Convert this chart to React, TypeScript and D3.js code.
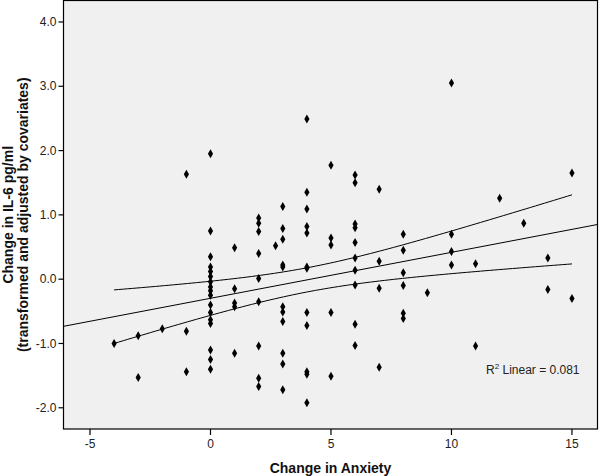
import React from "react";
import * as d3 from "d3";

// Change in Anxiety (x) and Change in IL-6 (y)
const anxietyChange: number[] = [
  -4,
  -3, -3,
  -2,
  -1, -1, -1,
  0, 0, 0, 0, 0, 0, 0, 0, 0, 0, 0, 0, 0, 0, 0, 0, 0,
  1, 1, 1, 1, 1,
  2, 2, 2, 2, 2, 2, 2, 2, 2,
  2.7,
  3, 3, 3, 3, 3, 3, 3, 3, 3, 3, 3,
  4, 4, 4, 4, 4, 4, 4, 4, 4, 4, 4, 4,
  5, 5, 5, 5, 5,
  6, 6, 6, 6, 6, 6, 6, 6, 6, 6,
  7, 7, 7, 7,
  8, 8, 8, 8, 8, 8,
  9,
  10, 10, 10, 10,
  11, 11,
  12,
  13,
  14, 14,
  15, 15,
];
const il6Change: number[] = [
  -1.0,
  -0.88, -1.53,
  -0.77,
  1.63, -0.81, -1.44,
  1.95, 0.75, 0.35, 0.19, 0.12, 0.04, -0.04, -0.12, -0.18, -0.25, -0.4, -0.52, -0.63, -0.69, -1.1, -1.25, -1.4,
  0.49, -0.15, -0.37, -0.43, -1.15,
  0.95, 0.87, 0.74, 0.4, 0.01, -0.35, -1.04, -1.54, -1.67,
  0.52,
  1.13, 0.79, 0.62, 0.22, 0.19, -0.43, -0.51, -0.66, -1.15, -1.32, -1.72,
  2.49, 1.35, 1.09, 0.82, 0.72, 0.19, 0.17, -0.52, -0.72, -1.44, -1.48, -1.92,
  1.77, 0.64, 0.53, -0.52, -1.51,
  1.62, 1.5, 0.86, 0.8, 0.57, 0.33, 0.14, -0.09, -0.7, -1.03,
  1.4, 0.28, -0.14, -1.37,
  0.7, 0.45, 0.1, -0.1, -0.53, -0.61,
  -0.21,
  3.05, 0.7, 0.43, 0.22,
  0.24, -1.04,
  1.26,
  0.87,
  0.33, -0.16,
  1.65, -0.3,
];
const xTicks: number[] = [-5, 0, 5, 10, 15];
const yTicks: number[] = [-2, -1, 0, 1, 2, 3, 4];
const xTitle = "Change in Anxiety";
const yTitle1 = "Change in IL-6 pg/ml";
const yTitle2 = "(transformed and adjusted by covariates)";
const r2Label = "0.081";

const W = 600;
const H = 476;
const left = 63.5;
const right = 597.5;
const top = 0.5;
const bottom = 429;
const FONT = "'Liberation Sans', Arial, sans-serif";

export default function App() {
  const x = d3.scaleLinear().domain([-6.1, 16.06]).range([left, right]);
  const y = d3.scaleLinear().domain([-2.33, 4.334]).range([bottom, top]);

  const n = anxietyChange.length;
  const mx = d3.mean(anxietyChange)!;
  const my = d3.mean(il6Change)!;
  let sxx = 0, sxy = 0;
  for (let i = 0; i < n; i++) {
    sxx += (anxietyChange[i] - mx) ** 2;
    sxy += (anxietyChange[i] - mx) * (il6Change[i] - my);
  }
  const b = sxy / sxx;
  const a = my - b * mx;
  let sse = 0;
  for (let i = 0; i < n; i++) sse += (il6Change[i] - a - b * anxietyChange[i]) ** 2;
  const s = Math.sqrt(sse / (n - 2));
  const t = 1.984;

  const [xmin, xmax] = d3.extent(anxietyChange) as [number, number];
  const samples = d3.range(0, 101).map((k) => xmin + ((xmax - xmin) * k) / 100);
  const half = (v: number) => t * s * Math.sqrt(1 / n + (v - mx) ** 2 / sxx);
  const line = d3
    .line<number[]>()
    .x((d) => x(d[0]))
    .y((d) => y(d[1]));
  const upper = line(samples.map((v) => [v, a + b * v + half(v)]))!;
  const lower = line(samples.map((v) => [v, a + b * v - half(v)]))!;
  const [d0, d1] = x.domain();
  const fit = line([
    [d0, a + b * d0],
    [d1, a + b * d1],
  ])!;

  const diamond = "M0,-4.5L2.6,0L0,4.5L-2.6,0Z";
  const cy = (top + bottom) / 2;

  return (
    <svg
      width={W}
      height={H}
      style={{ position: "absolute", left: 0, top: 0, background: "#fff" }}
      fontFamily={FONT}
    >
      <defs>
        <clipPath id="plotclip">
          <rect x={left} y={top} width={right - left} height={bottom - top} />
        </clipPath>
      </defs>
      <rect x={left} y={top} width={right - left} height={bottom - top} fill="#f0f0f0" />
      <g clipPath="url(#plotclip)">
        <path d={fit} fill="none" stroke="#000" strokeWidth={1} />
        <path d={upper} fill="none" stroke="#000" strokeWidth={1} />
        <path d={lower} fill="none" stroke="#000" strokeWidth={1} />
        {anxietyChange.map((v, i) => (
          <path
            key={i}
            d={diamond}
            transform={`translate(${x(v)},${y(il6Change[i])})`}
            fill="#000"
          />
        ))}
      </g>
      <rect
        x={left}
        y={top}
        width={right - left}
        height={bottom - top}
        fill="none"
        stroke="#000"
        strokeWidth={1.2}
      />
      {yTicks.map((v) => (
        <g key={v} transform={`translate(${left},${y(v)})`}>
          <line x1={-5} x2={0} stroke="#000" strokeWidth={1.2} />
          <text x={-7} dy="0.35em" textAnchor="end" fontSize={12} fill="#222">
            {v.toFixed(1)}
          </text>
        </g>
      ))}
      {xTicks.map((v) => (
        <g key={v} transform={`translate(${x(v)},${bottom})`}>
          <line y1={0} y2={6} stroke="#000" strokeWidth={1.2} />
          <text y={19} textAnchor="middle" fontSize={12} fill="#222">
            {v}
          </text>
        </g>
      ))}
      <text
        x={(left + right) / 2}
        y={473}
        textAnchor="middle"
        fontSize={14}
        fontWeight="bold"
        fill="#111"
      >
        {xTitle}
      </text>
      <text
        transform={`translate(13,${cy}) rotate(-90)`}
        textAnchor="middle"
        fontSize={14}
        fontWeight="bold"
        fill="#111"
      >
        {yTitle1}
      </text>
      <text
        transform={`translate(28,${cy}) rotate(-90)`}
        textAnchor="middle"
        fontSize={14}
        fontWeight="bold"
        fill="#111"
      >
        {yTitle2}
      </text>
      <text x={486} y={374} fontSize={12} fill="#222">
        R<tspan dy={-5} fontSize={8}>2</tspan>
        <tspan dy={5}> Linear = {r2Label}</tspan>
      </text>
    </svg>
  );
}
